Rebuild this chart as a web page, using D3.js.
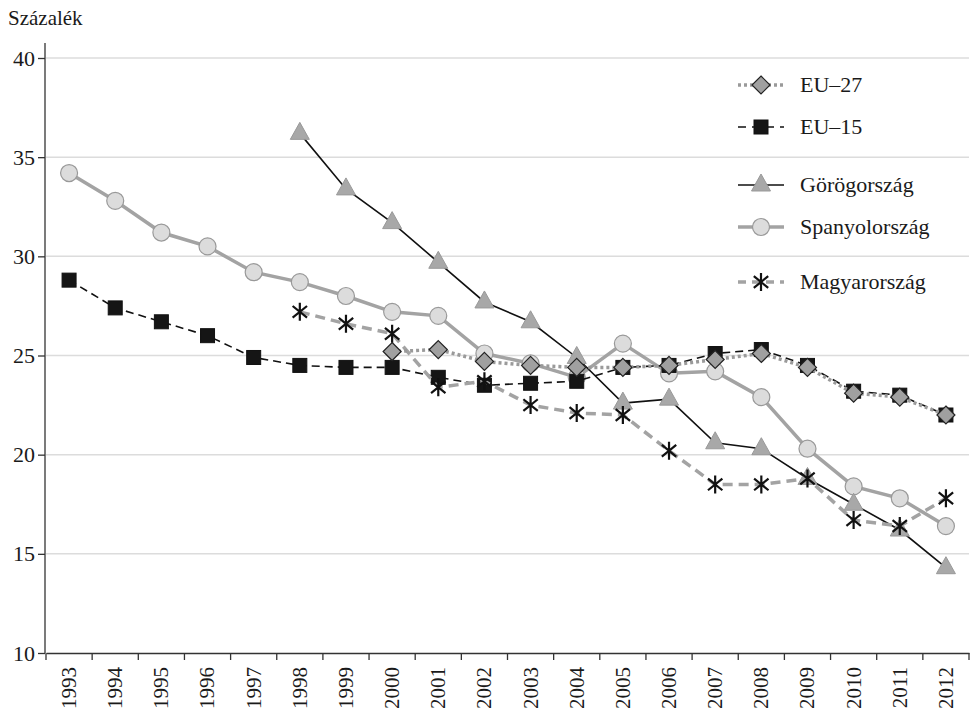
<!DOCTYPE html>
<html>
  <head>
    <meta charset="utf-8">
    <title>Százalék</title>
    <script src="https://cdn.jsdelivr.net/npm/d3@7"></script>
    <style>
      body { margin: 0; background: #fff; }
    </style>
  </head>
  <body>
    <svg id="chart" width="971" height="712"></svg>

    <script>
      // data
      const years = [1993, 1994, 1995, 1996, 1997, 1998, 1999, 2000, 2001, 2002,
                     2003, 2004, 2005, 2006, 2007, 2008, 2009, 2010, 2011, 2012];
      const yTicks = [10, 15, 20, 25, 30, 35, 40];

      const eu27 = [null, null, null, null, null, null, null, 25.2, 25.3, 24.7,
                    24.5, 24.4, 24.4, 24.5, 24.8, 25.1, 24.4, 23.1, 22.9, 22.0];
      const eu15 = [28.8, 27.4, 26.7, 26.0, 24.9, 24.5, 24.4, 24.4, 23.9, 23.5,
                    23.6, 23.7, 24.4, 24.5, 25.1, 25.3, 24.5, 23.2, 23.0, 22.0];
      const greece = [null, null, null, null, null, 36.2, 33.4, 31.7, 29.7, 27.7,
                      26.7, 24.9, 22.6, 22.8, 20.6, 20.3, 18.8, 17.5, 16.2, 14.3];
      const spain = [34.2, 32.8, 31.2, 30.5, 29.2, 28.7, 28.0, 27.2, 27.0, 25.1,
                     24.6, 23.9, 25.6, 24.1, 24.2, 22.9, 20.3, 18.4, 17.8, 16.4];
      const hungary = [null, null, null, null, null, 27.2, 26.6, 26.1, 23.4, 23.7,
                       22.5, 22.1, 22.0, 20.2, 18.5, 18.5, 18.8, 16.7, 16.4, 17.8];

      const seriesNames = ["EU–27", "EU–15", "Görögország", "Spanyolország", "Magyarország"];

      const FONT = "'Liberation Serif', 'DejaVu Serif', 'Times New Roman', serif";

      // styles per series
      const styles = {
        "EU–27": { values: eu27, stroke: "#9a9a9a", width: 3.5, dash: "3,3", marker: "diamond" },
        "EU–15": { values: eu15, stroke: "#111", width: 1.6, dash: "8,5", marker: "square" },
        "Görögország": { values: greece, stroke: "#111", width: 1.6, dash: null, marker: "triangle" },
        "Spanyolország": { values: spain, stroke: "#a3a3a3", width: 3.5, dash: null, marker: "circle" },
        "Magyarország": { values: hungary, stroke: "#a3a3a3", width: 3.5, dash: "10,6", marker: "star" }
      };
      const drawOrder = ["Spanyolország", "Görögország", "EU–15", "Magyarország", "EU–27"];

      const svg = d3.select("#chart");
      const margin = { top: 58, right: 2, bottom: 59, left: 46 };
      const width = 971 - margin.left - margin.right;
      const height = 712 - margin.top - margin.bottom;

      const x = d3.scaleBand()
        .domain(years)
        .range([margin.left, margin.left + width]);
      const y = d3.scaleLinear()
        .domain([10, 40])
        .range([margin.top + height, margin.top]);

      // gridlines
      svg.append("g")
        .selectAll("line")
          .data(yTicks.filter(function(d) { return d > 10; }))
        .enter().append("line")
          .attr("x1", margin.left)
          .attr("x2", margin.left + width)
          .attr("y1", function(d) { return y(d); })
          .attr("y2", function(d) { return y(d); })
          .attr("stroke", "#dcdcdc")
          .attr("stroke-width", 1.5);

      // y axis
      const yAxis = svg.append("g")
        .attr("transform", "translate(" + (margin.left - 1) + ",0)")
        .call(d3.axisLeft(y).tickValues(yTicks).tickSize(7).tickPadding(3));
      yAxis.attr("font-family", FONT).attr("font-size", 22);
      yAxis.select(".domain").remove();
      yAxis.selectAll(".tick line").attr("stroke", "#333").attr("stroke-width", 1.3);
      yAxis.selectAll("text").attr("fill", "#1a1a1a");
      svg.append("line")
        .attr("x1", margin.left - 1).attr("x2", margin.left - 1)
        .attr("y1", margin.top - 15).attr("y2", margin.top + height)
        .attr("stroke", "#333").attr("stroke-width", 1.3);

      // x axis
      const xAxis = svg.append("g")
        .attr("transform", "translate(0," + (margin.top + height) + ")")
        .call(d3.axisBottom(x).tickSize(0).tickPadding(0));
      xAxis.attr("font-family", FONT).attr("font-size", 21);
      xAxis.select(".domain").attr("stroke", "#333").attr("stroke-width", 1.5);
      xAxis.selectAll(".tick text")
        .attr("fill", "#1a1a1a")
        .attr("transform", "rotate(-90)")
        .attr("text-anchor", "end")
        .attr("x", -14)
        .attr("y", 0)
        .attr("dy", "0.33em");
      xAxis.selectAll(".bandtick")
        .data(years.concat([null]))
        .enter().append("line")
          .attr("x1", function(d, i) { return margin.left + i * x.step(); })
          .attr("x2", function(d, i) { return margin.left + i * x.step(); })
          .attr("y1", 0)
          .attr("y2", 7)
          .attr("stroke", "#333")
          .attr("stroke-width", 1.3);

      // y label
      svg.append("text")
        .attr("x", 8)
        .attr("y", 25)
        .attr("font-family", FONT)
        .attr("font-size", 21)
        .attr("fill", "#1a1a1a")
        .text("Százalék");

      // marker drawing
      function drawMarker(g, type, cx, cy) {
        if (type === "diamond") {
          g.append("path")
            .attr("d", "M" + cx + "," + (cy - 9) + "L" + (cx + 9) + "," + cy + "L" + cx + "," + (cy + 9) + "L" + (cx - 9) + "," + cy + "Z")
            .attr("fill", "#a0a0a0").attr("stroke", "#222").attr("stroke-width", 1.2);
        } else if (type === "square") {
          g.append("rect")
            .attr("x", cx - 7).attr("y", cy - 7).attr("width", 14).attr("height", 14)
            .attr("fill", "#151515").attr("stroke", "#111");
        } else if (type === "triangle") {
          g.append("path")
            .attr("d", "M" + cx + "," + (cy - 11) + "L" + (cx + 9.5) + "," + (cy + 6) + "L" + (cx - 9.5) + "," + (cy + 6) + "Z")
            .attr("fill", "#a8a8a8").attr("stroke", "#999").attr("stroke-width", 1);
        } else if (type === "circle") {
          g.append("circle")
            .attr("cx", cx).attr("cy", cy).attr("r", 8.5)
            .attr("fill", "#dcdcdc").attr("stroke", "#999").attr("stroke-width", 1.2);
        } else if (type === "star") {
          const r = 9;
          g.append("path")
            .attr("d", "M" + cx + "," + (cy - r) + "L" + cx + "," + (cy + r)
              + "M" + (cx - r * 0.8) + "," + (cy - r * 0.65) + "L" + (cx + r * 0.8) + "," + (cy + r * 0.65)
              + "M" + (cx - r * 0.8) + "," + (cy + r * 0.65) + "L" + (cx + r * 0.8) + "," + (cy - r * 0.65))
            .attr("stroke", "#111").attr("stroke-width", 2.2).attr("fill", "none");
        }
      }

      const line = d3.line()
        .defined(function(d) { return d.v !== null; })
        .x(function(d) { return x(d.year) + x.bandwidth() / 2; })
        .y(function(d) { return y(d.v); });

      // series
      drawOrder.forEach(function(name) {
        const s = styles[name];
        const pts = years.map(function(yr, i) { return { year: yr, v: s.values[i] }; });
        const g = svg.append("g").attr("class", "series");
        g.append("path")
          .datum(pts)
          .attr("d", line)
          .attr("fill", "none")
          .attr("stroke", s.stroke)
          .attr("stroke-width", s.width)
          .attr("stroke-dasharray", s.dash);
        pts.filter(function(d) { return d.v !== null; }).forEach(function(d) {
          drawMarker(g, s.marker, x(d.year) + x.bandwidth() / 2, y(d.v));
        });
      });

      // legend
      const legendY = [85, 127, 185, 227, 282];
      const legend = svg.append("g");
      seriesNames.forEach(function(name, i) {
        const s = styles[name];
        const ly = legendY[i];
        legend.append("line")
          .attr("x1", 738).attr("x2", 784)
          .attr("y1", ly).attr("y2", ly)
          .attr("stroke", s.stroke)
          .attr("stroke-width", s.width)
          .attr("stroke-dasharray", s.dash ? (name === "EU–27" ? "3,3" : "8,6") : null);
        drawMarker(legend, s.marker, 761, ly);
        legend.append("text")
          .attr("x", 800)
          .attr("y", ly)
          .attr("dy", "0.33em")
          .attr("font-family", FONT)
          .attr("font-size", 22)
          .attr("fill", "#1a1a1a")
          .text(name);
      });
    </script>
  </body>
</html>
